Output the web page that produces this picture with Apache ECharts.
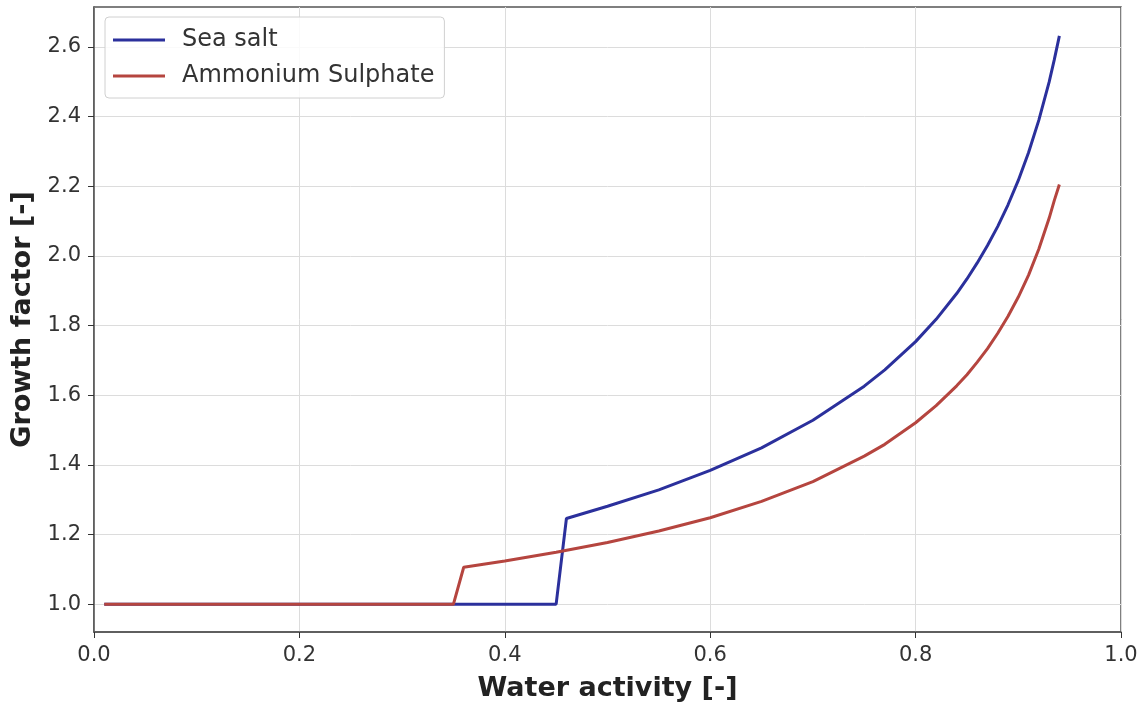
<!DOCTYPE html>
<html>
<head>
<meta charset="utf-8">
<title>Growth factor</title>
<script src="https://cdn.jsdelivr.net/npm/echarts@6/dist/echarts.min.js"></script>
<style>
  html, body { margin: 0; padding: 0; background: #fff; }
  #main { width: 1142px; height: 705px; }
</style>
</head>
<body>
<div id="main"></div>
<script>
// values
var seaSaltAw = [0.01, 0.10, 0.20, 0.30, 0.40, 0.45, 0.46, 0.50, 0.55, 0.60, 0.65, 0.70, 0.75, 0.77, 0.80, 0.82, 0.84, 0.85, 0.86, 0.87, 0.88, 0.89, 0.90, 0.91, 0.92, 0.93, 0.935, 0.94];
var seaSaltGf = [1.0, 1.0, 1.0, 1.0, 1.0, 1.0, 1.246, 1.281, 1.328, 1.384, 1.449, 1.528, 1.626, 1.673, 1.754, 1.818, 1.892, 1.934, 1.980, 2.030, 2.085, 2.147, 2.217, 2.297, 2.390, 2.499, 2.563, 2.632];

var ammAw = [0.01, 0.10, 0.20, 0.30, 0.35, 0.36, 0.40, 0.45, 0.50, 0.55, 0.60, 0.65, 0.70, 0.75, 0.77, 0.80, 0.82, 0.84, 0.85, 0.86, 0.87, 0.88, 0.89, 0.90, 0.91, 0.92, 0.93, 0.935, 0.94];
var ammGf = [1.0, 1.0, 1.0, 1.0, 1.0, 1.106, 1.124, 1.149, 1.177, 1.210, 1.248, 1.295, 1.352, 1.425, 1.459, 1.521, 1.570, 1.627, 1.659, 1.695, 1.734, 1.778, 1.827, 1.882, 1.945, 2.020, 2.108, 2.159, 2.205];

var yTicks = [1.0, 1.2, 1.4, 1.6, 1.8, 2.0, 2.2, 2.4, 2.6];

function pairs(xs, ys) {
    var out = [];
    for (var i = 0; i < xs.length; i++) out.push([xs[i], ys[i]]);
    return out;
}

var chart = echarts.init(document.getElementById('main'));
var font = 'DejaVu Sans';

var option = {
    animation: false,
    backgroundColor: '#fff',
    grid: {
        left: 94, right: 21, top: 7, bottom: 73,
        outerBoundsMode: 'none',
        containLabel: false,
        show: true,
        borderColor: '#555',
        borderWidth: 1.5
    },
    legend: {
        orient: 'vertical',
        left: 105,
        top: 17,
        padding: [11, 10, 10, 8],
        itemWidth: 52,
        itemHeight: 3,
        itemGap: 12,
        icon: 'rect',
        backgroundColor: 'rgba(255,255,255,0.85)',
        borderColor: '#d0d0d0',
        borderWidth: 1,
        borderRadius: 4,
        textStyle: { fontFamily: font, fontSize: 24, color: '#333', padding: [0, 0, 0, 12] },
        data: ['Sea salt', 'Ammonium Sulphate']
    },
    xAxis: {
        type: 'value',
        min: 0,
        max: 1,
        interval: 0.2,
        name: 'Water activity [-]',
        nameLocation: 'middle',
        nameGap: 43,
        nameTextStyle: { fontFamily: font, fontSize: 27, fontWeight: 'bold', color: '#222' },
        axisLine: { show: true, lineStyle: { color: '#555', width: 1.5 } },
        axisTick: { show: true, length: 6, lineStyle: { color: '#333' } },
        axisLabel: {
            fontFamily: font, fontSize: 21, color: '#333', margin: 13,
            formatter: function (v) { return v.toFixed(1); }
        },
        splitLine: { show: true, lineStyle: { color: '#dcdcdc', width: 1 } }
    },
    yAxis: {
        type: 'value',
        min: 0.92,
        max: 2.715,
        splitNumber: 9,
        name: 'Growth factor [-]',
        nameLocation: 'middle',
        nameGap: 57,
        nameTextStyle: { fontFamily: font, fontSize: 27, fontWeight: 'bold', color: '#222' },
        axisLine: { show: true, lineStyle: { color: '#555', width: 1.5 } },
        axisTick: { show: true, length: 6, customValues: yTicks, lineStyle: { color: '#333' } },
        axisLabel: {
            fontFamily: font, fontSize: 21, color: '#333', margin: 13,
            customValues: yTicks,
            formatter: function (v) { return v.toFixed(1); }
        },
        splitLine: { show: true, lineStyle: { color: '#dcdcdc', width: 1 } }
    },
    series: [
        {
            name: 'Sea salt',
            type: 'line',
            data: pairs(seaSaltAw, seaSaltGf),
            smooth: false,
            showSymbol: false,
            z: 3,
            lineStyle: { color: '#2b309c', width: 3 },
            itemStyle: { color: '#2b309c' }
        },
        {
            name: 'Ammonium Sulphate',
            type: 'line',
            data: pairs(ammAw, ammGf),
            smooth: false,
            showSymbol: false,
            z: 4,
            lineStyle: { color: '#b5453f', width: 3 },
            itemStyle: { color: '#b5453f' }
        }
    ]
};

chart.setOption(option);
</script>
</body>
</html>
